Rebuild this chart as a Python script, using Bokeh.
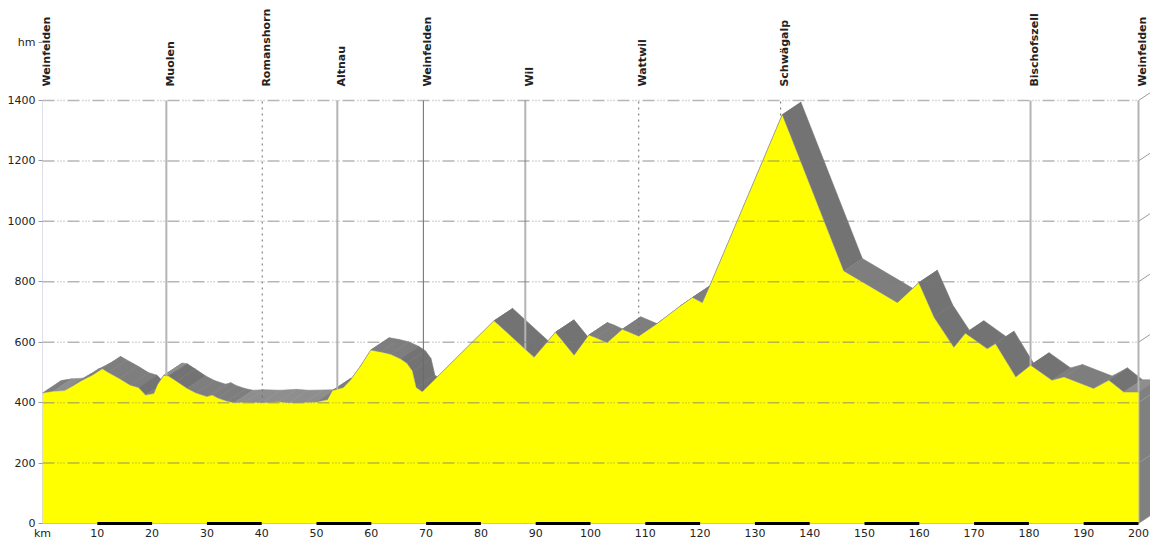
import math
from bokeh.plotting import figure
from bokeh.models import FixedTicker, Range1d, ColumnDataSource
from bokeh.core.properties import value
from bokeh.embed import file_html
from bokeh.resources import INLINE

# ---------------- data ----------------
km = [0, 2, 4, 5.5, 7, 9, 10.9, 12, 14, 16, 17.5, 18.8, 20.3, 21, 22.1, 23, 24.5,
      26.4, 28, 30, 31, 32, 33.7, 35, 37, 40, 43, 45, 48, 50, 52, 52.9, 54.9, 56.2,
      58, 59.9, 61.7, 63.5, 65.3, 66.5, 67.5, 68.2, 69.3, 82.4, 89.7, 93.6, 97,
      99.7, 101, 103, 105.8, 108.8, 112.2, 116.4, 118.6, 120.4, 121.9, 135, 146.2,
      156, 159.9, 162.7, 166.3, 168.4, 172.4, 173.9, 177.6, 180.3, 184.2, 186.4,
      191.8, 194.6, 197.3, 200]
elev = [432, 438, 440, 455, 472, 490, 512, 500, 480, 458, 450, 425, 430, 460, 490,
        488, 470, 447, 432, 420, 425, 415, 405, 400, 402, 400, 403, 400, 401, 402,
        410, 440, 450, 475, 520, 574, 568, 560, 545, 530, 505, 450, 436, 671, 550,
        633, 557, 624, 615, 598, 643, 620, 662, 720, 748, 731, 792, 1353, 836, 731,
        797, 682, 583, 630, 578, 595, 485, 524, 474, 485, 447, 474, 435, 435]

town_names = ["Weinfelden", "Muolen", "Romanshorn", "Altnau", "Weinfelden", "Wil",
              "Wattwil", "Schwägalp", "Bischofszell", "Weinfelden"]
town_km = [0, 22.6, 40.1, 53.8, 69.5, 88.1, 108.8, 134.7, 180.3, 200]

y_ticks = [0, 200, 400, 600, 800, 1000, 1200, 1400]
y_unit = "hm"
y_unit_pos = 1592
x_ticks = [0, 10, 20, 30, 40, 50, 60, 70, 80, 90, 100, 110, 120, 130, 140, 150,
           160, 170, 180, 190, 200]
x_tick_labels = ["km", "10", "20", "30", "40", "50", "60", "70", "80", "90", "100",
                 "110", "120", "130", "140", "150", "160", "170", "180", "190", "200"]
scale_bar_starts = [10, 30, 50, 70, 90, 110, 130, 150, 170, 190]

# ---------------- styling constants ----------------
DX, DY = 3.4, 41.0          # 3D depth offset (km, m)
X_END = 202.19
Y_START, Y_TOP = -6.6, 1731.0
LABEL_Y = 1446.0
FONT = "DejaVu Sans"

p = figure(width=1150, height=544, x_range=Range1d(0, X_END),
           y_range=Range1d(Y_START, Y_TOP),
           output_backend="svg", toolbar_location=None,
           min_border_left=42, min_border_right=0, min_border_top=0, min_border_bottom=19)
p.outline_line_color = None
p.xgrid.visible = False
p.ygrid.visible = False
p.background_fill_color = "white"
p.border_fill_color = "white"

# axes
p.xaxis.ticker = FixedTicker(ticks=x_ticks)
p.xaxis.major_label_overrides = {t: l for t, l in zip(x_ticks, x_tick_labels)}
p.xaxis.axis_line_color = None
p.xaxis.major_tick_line_color = None
p.xaxis.major_tick_out = 0
p.xaxis.major_tick_in = 0
p.xaxis.minor_tick_line_color = None
p.xaxis.major_label_standoff = 1
p.xaxis.major_label_text_font = FONT
p.xaxis.major_label_text_font_size = "11px"
p.xaxis.major_label_text_color = "#222222"

p.yaxis.ticker = FixedTicker(ticks=y_ticks + [y_unit_pos])
p.yaxis.major_label_overrides = {y_unit_pos: y_unit}
p.yaxis.axis_line_color = None
p.yaxis.major_tick_out = 4
p.yaxis.major_tick_in = 0
p.yaxis.major_tick_line_color = "#9a9a9a"
p.yaxis.minor_tick_line_color = None
p.yaxis.major_label_standoff = 3
p.yaxis.major_label_text_font = FONT
p.yaxis.major_label_text_font_size = "11px"
p.yaxis.major_label_text_color = "#222222"

# ---------------- 3D top surface (gray) ----------------
xs, ys, cols = [], [], []
for i in range(len(km) - 1):
    x0, x1 = km[i], km[i + 1]
    y0, y1 = elev[i], elev[i + 1]
    xs.append([x0, x1, x1 + DX, x0 + DX])
    ys.append([y0, y1, y1 + DY, y0 + DY])
    slope = abs((y1 - y0) / (x1 - x0))
    if slope < 3:
        cols.append("#8e8e8e")
    elif slope < 12:
        cols.append("#7e7e7e")
    else:
        cols.append("#737373")
# right end face
xs.append([km[-1], km[-1], km[-1] + DX, km[-1] + DX])
ys.append([0, elev[-1], elev[-1] + DY, DY])
cols.append("#808080")
p.patches(xs=xs, ys=ys, fill_color=cols, line_color=cols, line_width=0.6)

# vertical town lines
styles = {1: ("#b4b4b4", 2, "solid"), 2: ("#6a6a6a", 1, "dotted"),
          3: ("#b4b4b4", 2, "solid"), 4: ("#6a6a6a", 1, "solid"),
          5: ("#b4b4b4", 2, "solid"), 6: ("#6a6a6a", 1, "dotted"),
          7: ("#6a6a6a", 1, "dotted"), 8: ("#b4b4b4", 2, "solid"),
          9: ("#b4b4b4", 2, "solid")}
for i, tk in enumerate(town_km):
    if i in styles:
        c, w, d = styles[i]
        p.segment(x0=[tk], y0=[0], x1=[tk], y1=[y_ticks[-1]], line_color=c,
                  line_width=w, line_dash=d)

# front face (yellow)
p.varea(x=km, y1=[0] * len(km), y2=elev, fill_color="#ffff00")
p.line(x=km, y=elev, line_color="#8a8aa8", line_width=0.8, line_alpha=0.6)

# horizontal grid lines (drawn over everything, semi transparent)
grid_vals = y_ticks[1:]
p.segment(x0=[0] * len(grid_vals), y0=grid_vals, x1=[200] * len(grid_vals), y1=grid_vals,
          line_color="#7a7a7a", line_alpha=0.55, line_width=1.5,
          line_dash="12 3 1 2 1 2 1 3")
# 3D box stubs at the right end
p.segment(x0=[200] * len(grid_vals), y0=grid_vals, x1=[200 + DX] * len(grid_vals),
          y1=[g + DY for g in grid_vals], line_color="#9a9a9a", line_width=1)

# left axis line (dotted)
p.segment(x0=[0], y0=[0], x1=[0], y1=[y_ticks[-1]], line_color="#8080a8",
          line_width=1, line_dash="1 1")

# bottom scale bar
p.segment(x0=[0], y0=[0], x1=[200], y1=[0], line_color="#9090c8", line_width=1,
          line_dash="1 1")
p.segment(x0=scale_bar_starts, y0=[0] * len(scale_bar_starts),
          x1=[s + 10 for s in scale_bar_starts], y1=[0] * len(scale_bar_starts),
          line_color="#000000", line_width=3)

# town labels (rotated, above the plot)
label_src = ColumnDataSource(dict(x=town_km, y=[LABEL_Y] * len(town_km), text=town_names))
p.text(x="x", y="y", text="text", x_offset=4, source=label_src, angle=math.pi / 2,
       text_align="left", text_baseline="middle", text_font=value(FONT),
       text_font_style="bold", text_font_size="11px", text_color="#222222")

open("out.html", "w").write(file_html(p, INLINE))
